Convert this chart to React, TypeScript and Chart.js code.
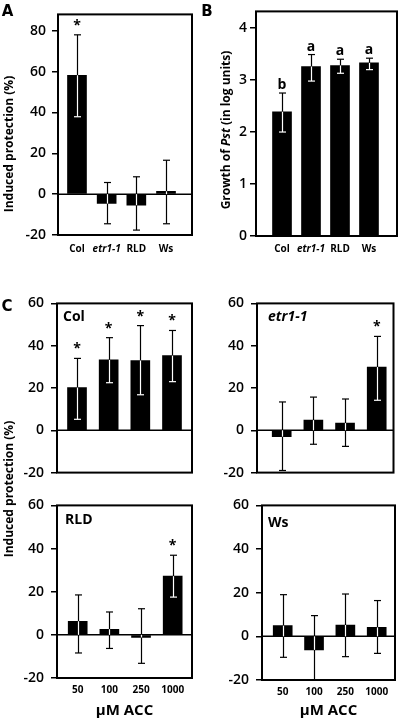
import React, { useEffect, useRef } from 'react';
import { Chart, registerables } from 'chart.js';

Chart.register(...registerables);

const FONT = "'Open Sans', 'DejaVu Sans', sans-serif";
const LETTER_FONT = "'DejaVu Sans', sans-serif";

// ---------- data ----------
const strainLabels = ['Col', 'etr1-1', 'RLD', 'Ws'];
const accLabels = ['50', '100', '250', '1000'];

const ticksProtA = [-20, 0, 20, 40, 60, 80];
const ticksGrowthB = [0, 1, 2, 3, 4];
const ticksProtC = [-20, 0, 20, 40, 60];

// Panel A: induced protection (%)
const aValues = [58.2, -4.6, -5.4, 1.4];
const aLow = [37.9, -14.5, -17.6, -14.5];
const aHigh = [78, 5.7, 8.5, 16.6];
const aMarks = ['*', '', '', ''];

// Panel B: growth of Pst (log units)
const bValues = [2.39, 3.26, 3.28, 3.33];
const bLow = [2.0, 2.98, 3.13, 3.2];
const bHigh = [2.75, 3.49, 3.4, 3.42];
const bMarks = ['b', 'a', 'a', 'a'];

// Panel C: Col
const colValues = [20.2, 33.3, 33.0, 35.3];
const colLow = [5.2, 22.5, 16.8, 23.0];
const colHigh = [34.0, 43.8, 49.5, 47.2];
const colMarks = ['*', '*', '*', '*'];

// Panel C: etr1-1
const etrValues = [-3.0, 4.8, 3.4, 29.9];
const etrLow = [-19.0, -6.6, -7.6, 14.2];
const etrHigh = [13.4, 15.7, 14.8, 44.4];
const etrMarks = ['', '', '', '*'];

// Panel C: RLD
const rldValues = [6.3, 2.6, -1.2, 27.2];
const rldLow = [-8.4, -6.3, -13.2, 17.5];
const rldHigh = [18.5, 10.6, 12.1, 36.9];
const rldMarks = ['', '', '', '*'];

// Panel C: Ws
const wsValues = [4.9, -6.2, 5.2, 4.1];
const wsLow = [-9.6, -20, -9.3, -7.8];
const wsHigh = [19.1, 9.5, 19.4, 16.4];
const wsMarks = ['', '', '', ''];

// ---------- helpers ----------
type Seg = { t: string; italic?: boolean };
type TextItem = {
  segs: Seg[];
  x: number;
  y: number;
  size: number;
  weight: string;
  family?: string;
  align: 'left' | 'center';
  rotate?: boolean;
};

function drawSegs(ctx: CanvasRenderingContext2D, item: TextItem) {
  ctx.save();
  ctx.translate(item.x, item.y);
  if (item.rotate) ctx.rotate(-Math.PI / 2);
  ctx.textBaseline = 'middle';
  ctx.textAlign = 'left';
  ctx.fillStyle = '#000';
  const fam = item.family || FONT;
  const fonts = item.segs.map((s) => `${s.italic ? 'italic ' : ''}${item.weight} ${item.size}px ${fam}`);
  const widths = item.segs.map((s, i) => {
    ctx.font = fonts[i];
    return ctx.measureText(s.t).width;
  });
  const total = widths.reduce((a, b) => a + b, 0);
  let cx = item.align === 'center' ? -total / 2 : 0;
  item.segs.forEach((s, i) => {
    ctx.font = fonts[i];
    ctx.fillText(s.t, cx, 0);
    cx += widths[i];
  });
  ctx.restore();
}

function errLine(ctx: CanvasRenderingContext2D, x: number, y1: number, y2: number) {
  ctx.beginPath();
  ctx.moveTo(x, y1);
  ctx.lineTo(x, y2);
  ctx.stroke();
}
function cap(ctx: CanvasRenderingContext2D, x: number, y: number, hw: number) {
  ctx.beginPath();
  ctx.moveTo(x - hw, y);
  ctx.lineTo(x + hw, y);
  ctx.stroke();
}

const decoPlugin = {
  id: 'deco',
  afterDatasetsDraw(chart: any, _args: any, opts: any) {
    const { ctx, chartArea: ca, scales } = chart;
    const xs = scales.x;
    const ys = scales.y;
    ctx.save();
    const y0 = ys.getPixelForValue(0);
    // zero line
    ctx.strokeStyle = '#000';
    ctx.lineWidth = 1.5;
    ctx.beginPath();
    ctx.moveTo(ca.left, y0);
    ctx.lineTo(ca.right, y0);
    ctx.stroke();
    // error bars
    const hw = 3.5;
    ctx.lineWidth = 1.2;
    (opts.values as number[]).forEach((v, i) => {
      const x = Math.round(xs.getPixelForValue(i + 1)) + 0.5;
      const yh = ys.getPixelForValue(opts.high[i]);
      const yl = ys.getPixelForValue(opts.low[i]);
      const yv = ys.getPixelForValue(v);
      const bTop = Math.min(y0, yv);
      const bBot = Math.max(y0, yv);
      ctx.strokeStyle = '#000';
      errLine(ctx, x, yh, yl);
      cap(ctx, x, yh, hw);
      cap(ctx, x, yl, hw);
      // portion inside the black bar drawn white
      const s = Math.max(yh, bTop);
      const e = Math.min(yl, bBot);
      if (e > s + 1) {
        ctx.strokeStyle = '#fff';
        errLine(ctx, x, s, e);
        if (yh > bTop + 1 && yh < bBot - 1) cap(ctx, x, yh, hw);
        if (yl > bTop + 1 && yl < bBot - 1) cap(ctx, x, yl, hw);
      }
    });
    // marks above error bars
    ctx.fillStyle = '#000';
    ctx.textAlign = 'center';
    ctx.textBaseline = 'alphabetic';
    ctx.font = `bold 14px ${FONT}`;
    (opts.marks as string[]).forEach((m, i) => {
      if (!m) return;
      const x = xs.getPixelForValue(i + 1);
      const yh = ys.getPixelForValue(opts.high[i]);
      ctx.fillText(m, x, yh - opts.markGap);
    });
    // frame
    ctx.strokeStyle = '#000';
    ctx.lineWidth = 2;
    ctx.strokeRect(ca.left, ca.top, ca.right - ca.left, ca.bottom - ca.top);
    // extra texts
    (opts.texts as TextItem[]).forEach((t) => drawSegs(ctx, t));
    ctx.restore();
  },
};

type PanelSpec = {
  left: number;
  top: number;
  width: number;
  height: number;
  area: { left: number; top: number; right: number; bottom: number };
  xMin: number;
  xMax: number;
  yMin: number;
  yMax: number;
  yTicks: number[];
  yPad: number;
  labels: string[];
  italicIdx: number[];
  showX: boolean;
  xPad: number;
  xTitle?: string;
  values: number[];
  low: number[];
  high: number[];
  marks: string[];
  markGap: number;
  texts: TextItem[];
};

function makeConfig(p: PanelSpec): any {
  return {
    type: 'bar',
    data: {
      datasets: [
        {
          data: p.values.map((v, i) => ({ x: i + 1, y: v })),
          backgroundColor: '#000',
          borderWidth: 0,
          barThickness: 19,
        },
      ],
    },
    options: {
      responsive: false,
      maintainAspectRatio: false,
      animation: false,
      events: [],
      layout: {
        padding: { left: 0, top: p.area.top, right: p.width - p.area.right, bottom: 0 },
      },
      plugins: {
        legend: { display: false },
        tooltip: { enabled: false },
        deco: {
          values: p.values,
          low: p.low,
          high: p.high,
          marks: p.marks,
          markGap: p.markGap,
          texts: p.texts,
        },
      },
      scales: {
        x: {
          type: 'linear',
          offset: false,
          min: p.xMin,
          max: p.xMax,
          grid: { display: false, drawTicks: false, tickLength: 0, offset: false },
          border: { display: false },
          afterBuildTicks: (s: any) => {
            s.ticks = p.labels.map((_, i) => ({ value: i + 1 }));
          },
          afterFit: (s: any) => {
            s.height = p.height - p.area.bottom;
          },
          ticks: {
            display: p.showX,
            padding: p.xPad,
            maxRotation: 0,
            autoSkip: false,
            color: '#000',
            font: (c: any) => ({
              family: FONT,
              size: 10,
              weight: 'bold',
              style: p.italicIdx.includes(c.index) ? 'italic' : 'normal',
            }),
            callback: (_v: any, i: number) => p.labels[i],
          },
          title: p.xTitle
            ? {
                display: true,
                text: p.xTitle,
                color: '#000',
                font: { family: FONT, size: 15, weight: 'bold' },
                padding: { top: 0, bottom: 2 },
              }
            : { display: false },
        },
        y: {
          type: 'linear',
          min: p.yMin,
          max: p.yMax,
          grid: {
            display: true,
            drawOnChartArea: false,
            drawTicks: true,
            tickLength: 6,
            color: '#000',
            lineWidth: 1.5,
          },
          border: { display: false },
          afterBuildTicks: (s: any) => {
            s.ticks = p.yTicks.map((v) => ({ value: v }));
          },
          afterFit: (s: any) => {
            s.width = p.area.left;
          },
          ticks: {
            padding: p.yPad,
            color: '#000',
            font: { family: FONT, size: 14, weight: '600' },
            callback: (v: any) => String(v),
          },
        },
      },
    },
    plugins: [decoPlugin],
  };
}

const letter = (t: string, x: number, y: number): TextItem => ({
  segs: [{ t }],
  x,
  y,
  size: 15,
  weight: 'bold',
  family: LETTER_FONT,
  align: 'center',
});
const sub = (t: string, x: number, y: number, italic = false): TextItem => ({
  segs: [{ t, italic }],
  x,
  y,
  size: 14,
  weight: 'bold',
  align: 'left',
});

const panels: PanelSpec[] = [
  {
    left: 0, top: 0, width: 200, height: 260,
    area: { left: 58, top: 1, right: 192, bottom: 235 },
    xMin: 0.36, xMax: 4.876, yMin: -20, yMax: 88, yTicks: ticksProtA, yPad: 6,
    labels: strainLabels, italicIdx: [1], showX: true, xPad: 8,
    values: aValues, low: aLow, high: aHigh, marks: aMarks, markGap: 5,
    texts: [
      letter('A', 7.5, 12),
      { segs: [{ t: 'Induced protection (%)' }], x: 10, y: 144, size: 12, weight: 'bold', align: 'center', rotate: true },
    ],
  },
  {
    left: 200, top: 0, width: 200, height: 260,
    area: { left: 56, top: 1, right: 197, bottom: 236 },
    xMin: 0.103, xMax: 4.966, yMin: 0, yMax: 4.32, yTicks: ticksGrowthB, yPad: 3,
    labels: strainLabels, italicIdx: [1], showX: true, xPad: 7,
    values: bValues, low: bLow, high: bHigh, marks: bMarks, markGap: 4,
    texts: [
      letter('B', 7, 12),
      {
        segs: [{ t: 'Growth of ' }, { t: 'Pst', italic: true }, { t: ' (in log units)' }],
        x: 27, y: 130, size: 12, weight: 'bold', align: 'center', rotate: true,
      },
    ],
  },
  {
    left: 0, top: 288, width: 200, height: 200,
    area: { left: 57, top: 14, right: 192, bottom: 187 },
    xMin: 0.368, xMax: 4.632, yMin: -20, yMax: 60, yTicks: ticksProtC, yPad: 7,
    labels: accLabels, italicIdx: [], showX: false, xPad: 6,
    values: colValues, low: colLow, high: colHigh, marks: colMarks, markGap: 5,
    texts: [letter('C', 7, 19), sub('Col', 63, 29)],
  },
  {
    left: 200, top: 288, width: 200, height: 200,
    area: { left: 57, top: 14, right: 193.5, bottom: 187 },
    xMin: 0.22, xMax: 4.53, yMin: -20, yMax: 60, yTicks: ticksProtC, yPad: 7,
    labels: accLabels, italicIdx: [], showX: false, xPad: 6,
    values: etrValues, low: etrLow, high: etrHigh, marks: etrMarks, markGap: 5,
    texts: [sub('etr1-1', 68, 29, true)],
  },
  {
    left: 0, top: 490, width: 200, height: 232,
    area: { left: 57, top: 14, right: 192, bottom: 188 },
    xMin: 0.346, xMax: 4.61, yMin: -20, yMax: 60, yTicks: ticksProtC, yPad: 7,
    labels: accLabels, italicIdx: [], showX: true, xPad: 6, xTitle: 'µM ACC',
    values: rldValues, low: rldLow, high: rldHigh, marks: rldMarks, markGap: 5,
    texts: [sub('RLD', 65, 30)],
  },
  {
    left: 200, top: 490, width: 200, height: 232,
    area: { left: 62, top: 15, right: 195, bottom: 190 },
    xMin: 0.339, xMax: 4.584, yMin: -20, yMax: 60, yTicks: ticksProtC, yPad: 7,
    labels: accLabels, italicIdx: [], showX: true, xPad: 6, xTitle: 'µM ACC',
    values: wsValues, low: wsLow, high: wsHigh, marks: wsMarks, markGap: 5,
    texts: [sub('Ws', 68, 33)],
  },
];

function Panel({ spec }: { spec: PanelSpec }) {
  const ref = useRef<HTMLCanvasElement | null>(null);
  useEffect(() => {
    if (!ref.current) return;
    const chart = new Chart(ref.current, makeConfig(spec));
    return () => chart.destroy();
  }, [spec]);
  return (
    <canvas
      ref={ref}
      width={spec.width}
      height={spec.height}
      style={{
        position: 'absolute',
        left: spec.left,
        top: spec.top,
        width: spec.width,
        height: spec.height,
      }}
    />
  );
}

export default function App() {
  return (
    <div style={{ position: 'absolute', left: 0, top: 0, width: 400, height: 722, background: '#fff', overflow: 'hidden' }}>
      {panels.map((p, i) => (
        <Panel key={i} spec={p} />
      ))}
      <div
        style={{
          position: 'absolute',
          left: 9 - 100,
          top: 489 - 9,
          width: 200,
          height: 18,
          lineHeight: '18px',
          textAlign: 'center',
          transform: 'rotate(-90deg)',
          transformOrigin: '50% 50%',
          fontFamily: FONT,
          fontWeight: 'bold',
          fontSize: 12,
          color: '#000',
          whiteSpace: 'nowrap',
        }}
      >
        Induced protection (%)
      </div>
    </div>
  );
}
